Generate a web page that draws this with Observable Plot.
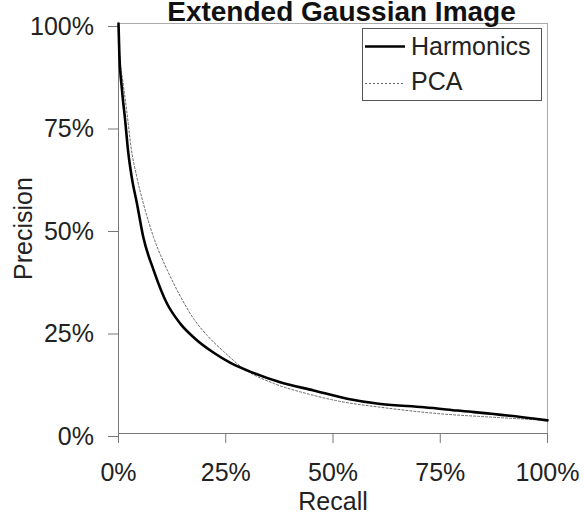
<!DOCTYPE html>
<html>
<head>
<meta charset="utf-8">
<script src="https://cdn.jsdelivr.net/npm/d3@7"></script>
<script src="https://cdn.jsdelivr.net/npm/@observablehq/plot@0.6"></script>
<style>
  body { margin: 0; background: #fff; font-family: "Liberation Sans", Arial, sans-serif; }
  #wrap { position: relative; width: 584px; height: 513px; overflow: hidden; }
  #legend { position: absolute; left: 0; top: 0; }
</style>
</head>
<body>
<div id="wrap">
  <div id="chart"></div>
  <svg id="legend" width="584" height="120" font-family="'Liberation Sans', Arial, sans-serif">
    <rect x="362.5" y="28.5" width="179" height="72" fill="#fff" stroke="#555" stroke-width="1"/>
    <line x1="365" x2="405" y1="46.5" y2="46.5" stroke="#000" stroke-width="2.6"/>
    <text x="411" y="55" font-size="25" fill="#222">Harmonics</text>
    <line x1="365" x2="403" y1="83.5" y2="83.5" stroke="#666" stroke-width="1" stroke-dasharray="2,2"/>
    <text x="411" y="90" font-size="25" fill="#222">PCA</text>
  </svg>
</div>
<script>
const title = "Extended Gaussian Image";
const xLabel = "Recall";
const yLabel = "Precision";
const seriesNames = ["Harmonics", "PCA"];
const ticks = [0, 0.25, 0.5, 0.75, 1];

const harmonicsRecall = [0, 0.2, 0.8, 1.56, 2.3, 3.1, 4.3, 5.8, 8.2, 11.3, 14.4, 18, 22.2, 26, 30, 37.7, 45.5, 53.3, 61.1, 71.2, 79, 90.7, 100];
const harmonicsPrecision = [100, 92.5, 84, 76.3, 68.3, 62.4, 56.1, 47.8, 39.8, 31.7, 26.8, 23, 19.7, 17.3, 15.4, 12.5, 10.5, 8.5, 7.2, 6.4, 5.6, 4.4, 3.2];

const pcaRecall = [0, 0.3, 1.0, 2.0, 2.9, 4.3, 5.8, 8.2, 11.3, 14.4, 17.5, 20.6, 24.5, 29.2, 36.2, 44, 51.8, 61.1, 75.1, 86.8, 100];
const pcaPrecision = [100, 92, 86, 78, 70, 62.4, 56.1, 47.8, 40, 33.5, 28, 24, 20, 15.8, 12.2, 9.7, 7.8, 6.4, 4.8, 4, 3.2];

const harmonics = harmonicsRecall.map((r, i) => ({x: r / 100, y: harmonicsPrecision[i] / 100}));
const pca = pcaRecall.map((r, i) => ({x: r / 100, y: pcaPrecision[i] / 100}));

const fmt = d3.format(".0%");

const chart = Plot.plot({
  width: 584,
  height: 513,
  marginLeft: 118,
  marginRight: 37,
  marginTop: 23,
  marginBottom: 80,
  style: {fontFamily: "'Liberation Sans', Arial, sans-serif", background: "#fff", overflow: "visible"},
  x: {domain: [0, 1]},
  y: {domain: [0, 1]},
  marks: [
    Plot.frame({stroke: "#aaa"}),
    Plot.ruleX([0], {stroke: "#777"}),
    Plot.ruleY([0], {stroke: "#777"}),
    Plot.axisX(ticks, {tickFormat: fmt, tickSize: 10, tickPadding: 20, fontSize: 25, color: "#222", stroke: "#777", label: xLabel, labelAnchor: "center", labelArrow: "none", labelOffset: 76}),
    Plot.axisY(ticks, {tickFormat: fmt, tickSize: 10, tickPadding: 14.5, fontSize: 25, dy: 3, color: "#222", stroke: "#777", label: yLabel, labelAnchor: "center", labelArrow: "none", labelOffset: 104}),
    Plot.line(pca, {x: "x", y: "y", stroke: "#666", strokeWidth: 1, strokeDasharray: "2,2", curve: "monotone-x"}),
    Plot.line(harmonics, {x: "x", y: "y", stroke: "#000", strokeWidth: 2.6, curve: "monotone-x"}),
    Plot.text([title], {frameAnchor: "top", lineAnchor: "bottom", dy: -2.5, dx: 8.5, fontSize: 28, fontWeight: "bold", fill: "#111"})
  ]
});
document.getElementById("chart").appendChild(chart);
</script>
</body>
</html>
